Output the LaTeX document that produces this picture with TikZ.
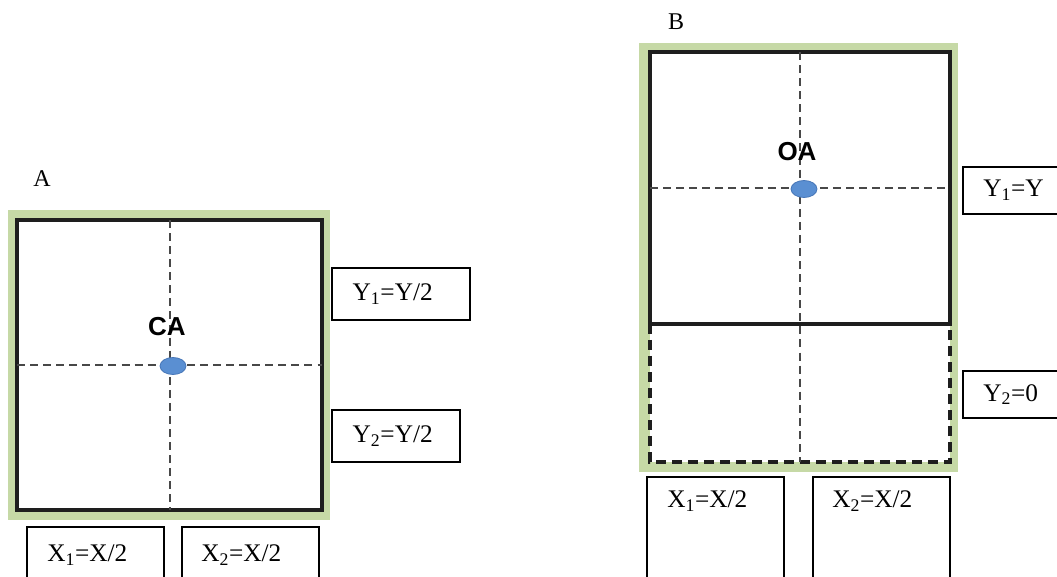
\documentclass[tikz,border=0pt]{standalone}
\usepackage{fontspec}
\setmainfont{Liberation Serif}
\newfontfamily\labelsans{Liberation Sans}
\usetikzlibrary{shapes.geometric}
\definecolor{framegreen}{HTML}{C6D9A6}
\definecolor{dotblue}{HTML}{5A8FD2}
\definecolor{dotedge}{HTML}{4676B8}
\definecolor{guidegray}{HTML}{484848}
\definecolor{wallblack}{HTML}{1E1E1E}
\newcommand{\pxu}{0.75pt}
\tikzset{
  greenframe/.style={fill=framegreen, draw=none},
  wall/.style={draw=wallblack, line width=2.6pt, fill=white},
  openwall/.style={draw=wallblack, line width=2.6pt, dash pattern=on 7.5pt off 4.5pt},
  guide/.style={draw=guidegray, line width=0.9pt, dash pattern=on 6pt off 3.8pt},
  centroid/.style={ellipse, fill=dotblue, draw=dotedge, line width=0.6pt,
    minimum width=26*\pxu, minimum height=17*\pxu, inner sep=0pt},
  tag/.style={font=\labelsans\bfseries\fontsize{19.5pt}{19.5pt}\selectfont, inner sep=0pt},
  panel/.style={font=\fontsize{18pt}{18pt}\selectfont, inner sep=0pt},
  valbox/.style={draw=black, line width=0.9pt, fill=white, inner sep=0pt},
  valtext/.style={font=\fontsize{19pt}{19pt}\selectfont, inner sep=0pt, anchor=west}
}
\begin{document}
\begin{tikzpicture}[x=\pxu, y=-\pxu]
\useasboundingbox (0,0) rectangle (1057,577);
\clip (0,0) rectangle (1057,577);

% ---------- panel A: centred axle ----------
\node[panel] (labA) at (42,179) {A};
\fill[greenframe] (8,210) rectangle (330,520);
\draw[wall] (17,220) rectangle (322,510);
\coordinate (aN) at (170,220);
\coordinate (aS) at (170,510);
\coordinate (aW) at (17,365);
\coordinate (aE) at (322,365);
\draw[guide] (aN) -- (aS);
\draw[guide] (aW) -- (aE);
\node[centroid] (ca) at (173,366) {};
\node[tag] (caTag) at (167,327) {CA};

\node[valbox, minimum width=138*\pxu, minimum height=52*\pxu] (aY1) at (401,294) {};
\node[valtext] (aY1t) at ([xshift=21*\pxu]aY1.west) {Y\textsubscript{1}=Y/2};
\node[valbox, minimum width=128*\pxu, minimum height=52*\pxu] (aY2) at (396,436) {};
\node[valtext] (aY2t) at ([xshift=21*\pxu]aY2.west) {Y\textsubscript{2}=Y/2};
\node[valbox, minimum width=137*\pxu, minimum height=80*\pxu] (aX1) at (95.5,567) {};
\node[valtext] (aX1t) at (47,555) {X\textsubscript{1}=X/2};
\node[valbox, minimum width=137*\pxu, minimum height=80*\pxu] (aX2) at (250.5,567) {};
\node[valtext] (aX2t) at (201,555) {X\textsubscript{2}=X/2};

% ---------- panel B: offset axle ----------
\node[panel] (labB) at (676,22) {B};
\fill[greenframe] (639,43) rectangle (958,472);
\fill[white] (650,324) rectangle (950,462);
\draw[openwall] (650,324) -- (650,462) -- (950,462) -- (950,324);
\draw[wall] (650,52) rectangle (950,324);
\coordinate (bN) at (800,52);
\coordinate (bS) at (800,462);
\coordinate (bW) at (650,188);
\coordinate (bE) at (950,188);
\draw[guide] (bN) -- (bS);
\draw[guide] (bW) -- (bE);
\node[centroid] (oa) at (804,189) {};
\node[tag] (oaTag) at (797,152) {OA};

\node[valbox, minimum width=120*\pxu, minimum height=47*\pxu] (bY1) at (1023,190.5) {};
\node[valtext] (bY1t) at (983,190.5) {Y\textsubscript{1}=Y};
\node[valbox, minimum width=120*\pxu, minimum height=47*\pxu] (bY2) at (1023,394.5) {};
\node[valtext] (bY2t) at (983,394.5) {Y\textsubscript{2}=0};
\node[valbox, minimum width=137*\pxu, minimum height=120*\pxu] (bX1) at (715.5,537) {};
\node[valtext] (bX1t) at (667,501) {X\textsubscript{1}=X/2};
\node[valbox, minimum width=137*\pxu, minimum height=120*\pxu] (bX2) at (881.5,537) {};
\node[valtext] (bX2t) at (832,501) {X\textsubscript{2}=X/2};
\end{tikzpicture}
\end{document}
